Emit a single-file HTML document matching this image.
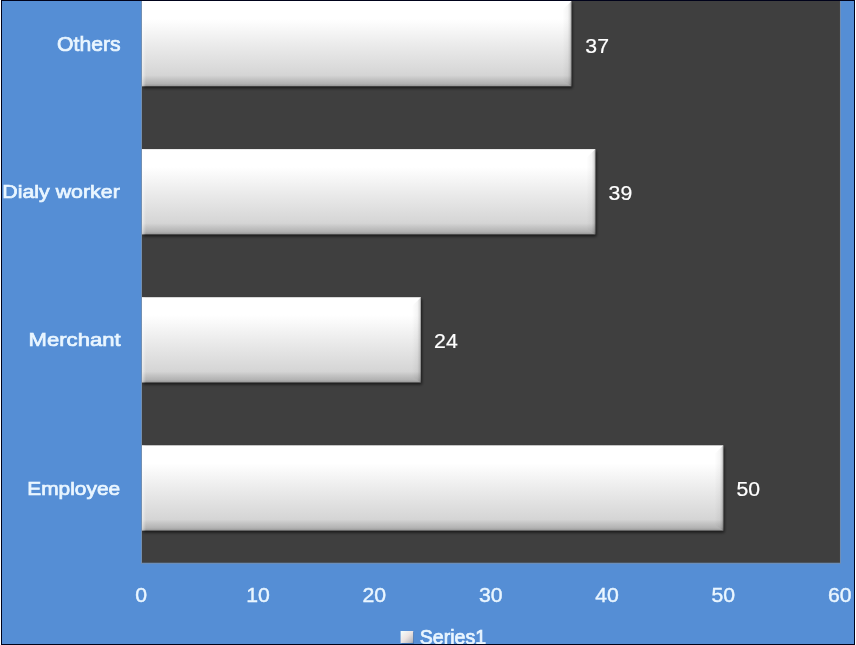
<!DOCTYPE html>
<html lang="en">
<head>
<meta charset="utf-8">
<title>Series1 bar chart</title>
<style>
html,body{margin:0;padding:0;background:#ffffff;}
body{width:856px;height:645px;overflow:hidden;}
svg{display:block;}
text{font-family:"Liberation Sans",sans-serif;font-size:19px;}
.cat{fill:#eaf6ff;stroke:#eaf6ff;stroke-width:0.7px;text-anchor:end;}
.ax{fill:#eaf6ff;stroke:#eaf6ff;stroke-width:0.4px;text-anchor:middle;font-size:20px;}
.val{fill:#ffffff;stroke:#ffffff;stroke-width:0.2px;font-size:20px;}
.leg{fill:#eaf6ff;stroke:#eaf6ff;stroke-width:0.7px;font-size:19.6px;}
</style>
</head>
<body>
<svg width="856" height="645" viewBox="0 0 856 645">
<defs>
<linearGradient id="face" x1="0" y1="0" x2="0" y2="1">
<stop offset="0" stop-color="#ffffff"/>
<stop offset="0.21" stop-color="#ffffff"/>
<stop offset="0.5" stop-color="#ececec"/>
<stop offset="0.87" stop-color="#d5d5d5"/>
<stop offset="0.915" stop-color="#c4c4c4"/>
<stop offset="0.97" stop-color="#b2b2b2"/>
<stop offset="1" stop-color="#949494"/>
</linearGradient>
<linearGradient id="rb" x1="0" y1="0" x2="1" y2="0">
<stop offset="0" stop-color="#000000" stop-opacity="0"/>
<stop offset="0.6" stop-color="#000000" stop-opacity="0.04"/>
<stop offset="0.85" stop-color="#000000" stop-opacity="0.14"/>
<stop offset="1" stop-color="#000000" stop-opacity="0.38"/>
</linearGradient>
<linearGradient id="lb" x1="0" y1="0" x2="1" y2="0">
<stop offset="0" stop-color="#ffffff" stop-opacity="0.5"/>
<stop offset="1" stop-color="#ffffff" stop-opacity="0"/>
</linearGradient>
<linearGradient id="lg" x1="0" y1="0" x2="1" y2="1">
<stop offset="0" stop-color="#f4ffff"/>
<stop offset="0.5" stop-color="#ece4e2"/>
<stop offset="0.85" stop-color="#c0c0c4"/>
<stop offset="1" stop-color="#969ca8"/>
</linearGradient>
<filter id="sh" x="-5%" y="-20%" width="110%" height="140%">
<feGaussianBlur in="SourceAlpha" stdDeviation="1.7"/>
<feOffset dx="0.8" dy="2"/>
<feComponentTransfer><feFuncA type="linear" slope="0.62"/></feComponentTransfer>
</filter>
<clipPath id="plotclip"><rect x="142.0" y="1.0" width="698.0" height="561.8"/></clipPath>
<clipPath id="inner"><rect x="2" y="1" width="852" height="643"/></clipPath>
</defs>
<rect x="0" y="0" width="856" height="645" fill="#ffffff"/>
<rect x="1" y="0" width="854" height="645" fill="#00021a"/>
<rect x="2" y="1" width="852" height="643" fill="#558ed5"/>
<rect x="142.0" y="1.0" width="698.0" height="561.8" fill="#3f3f3f"/>
<g fill="none" stroke="#909090" stroke-opacity="0.5" stroke-width="1">
<line x1="141.5" y1="1" x2="141.5" y2="563.3"/>
<line x1="141" y1="563.3" x2="840.5" y2="563.3"/>
<line x1="840.4" y1="1" x2="840.4" y2="563.3"/>
</g>

<g clip-path="url(#inner)">
<rect x="142.00" y="1.00" width="429.43" height="85.30" fill="#000" filter="url(#sh)" clip-path="url(#plotclip)"/>
<rect x="142.00" y="1.00" width="429.43" height="85.30" fill="url(#face)"/>
<polygon points="562.43,10.00 571.43,1.00 571.43,86.30 562.43,80.30" fill="url(#rb)"/>
<rect x="142.00" y="1.00" width="4" height="85.30" fill="url(#lb)"/>
<rect x="142.00" y="149.10" width="453.40" height="85.30" fill="#000" filter="url(#sh)" clip-path="url(#plotclip)"/>
<rect x="142.00" y="149.10" width="453.40" height="85.30" fill="url(#face)"/>
<polygon points="586.40,158.10 595.40,149.10 595.40,234.40 586.40,228.40" fill="url(#rb)"/>
<rect x="142.00" y="149.10" width="4" height="85.30" fill="url(#lb)"/>
<rect x="142.00" y="297.20" width="278.90" height="85.30" fill="#000" filter="url(#sh)" clip-path="url(#plotclip)"/>
<rect x="142.00" y="297.20" width="278.90" height="85.30" fill="url(#face)"/>
<polygon points="411.90,306.20 420.90,297.20 420.90,382.50 411.90,376.50" fill="url(#rb)"/>
<rect x="142.00" y="297.20" width="4" height="85.30" fill="url(#lb)"/>
<rect x="142.00" y="445.30" width="581.37" height="85.30" fill="#000" filter="url(#sh)" clip-path="url(#plotclip)"/>
<rect x="142.00" y="445.30" width="581.37" height="85.30" fill="url(#face)"/>
<polygon points="714.37,454.30 723.37,445.30 723.37,530.60 714.37,524.60" fill="url(#rb)"/>
<rect x="142.00" y="445.30" width="4" height="85.30" fill="url(#lb)"/>
</g>
<text class="cat" style="font-size:20.3px" x="120.60" y="51.10" textLength="63.5" lengthAdjust="spacingAndGlyphs">Others</text>
<text class="cat" x="119.80" y="198.30" textLength="117.5" lengthAdjust="spacingAndGlyphs">Dialy worker</text>
<text class="cat" x="120.60" y="346.30" textLength="92.0" lengthAdjust="spacingAndGlyphs">Merchant</text>
<text class="cat" x="120.20" y="494.50" textLength="93.0" lengthAdjust="spacingAndGlyphs">Employee</text>
<text class="val" x="585.33" y="52.50" textLength="23.6" lengthAdjust="spacingAndGlyphs">37</text>
<text class="val" x="608.60" y="200.20" textLength="23.6" lengthAdjust="spacingAndGlyphs">39</text>
<text class="val" x="434.10" y="348.20" textLength="23.6" lengthAdjust="spacingAndGlyphs">24</text>
<text class="val" x="736.57" y="496.40" textLength="23.6" lengthAdjust="spacingAndGlyphs">50</text>
<text class="ax" x="141.10" y="602" textLength="11.8" lengthAdjust="spacingAndGlyphs">0</text>
<text class="ax" x="258.03" y="602" textLength="23.6" lengthAdjust="spacingAndGlyphs">10</text>
<text class="ax" x="374.37" y="602" textLength="23.6" lengthAdjust="spacingAndGlyphs">20</text>
<text class="ax" x="490.70" y="602" textLength="23.6" lengthAdjust="spacingAndGlyphs">30</text>
<text class="ax" x="607.03" y="602" textLength="23.6" lengthAdjust="spacingAndGlyphs">40</text>
<text class="ax" x="723.37" y="602" textLength="23.6" lengthAdjust="spacingAndGlyphs">50</text>
<text class="ax" x="839.70" y="602" textLength="23.6" lengthAdjust="spacingAndGlyphs">60</text>
<g clip-path="url(#inner)">
<rect x="401.6" y="632" width="12.4" height="12" fill="#2f5f9f" opacity="0.55"/>
<rect x="400.6" y="631" width="12.6" height="12" fill="url(#lg)"/>
<text class="leg" x="419.8" y="644.1" textLength="66.3" lengthAdjust="spacingAndGlyphs">Series1</text>
</g>
<rect x="2" y="644" width="852" height="1" fill="#00021a"/>
</svg>
</body>
</html>
